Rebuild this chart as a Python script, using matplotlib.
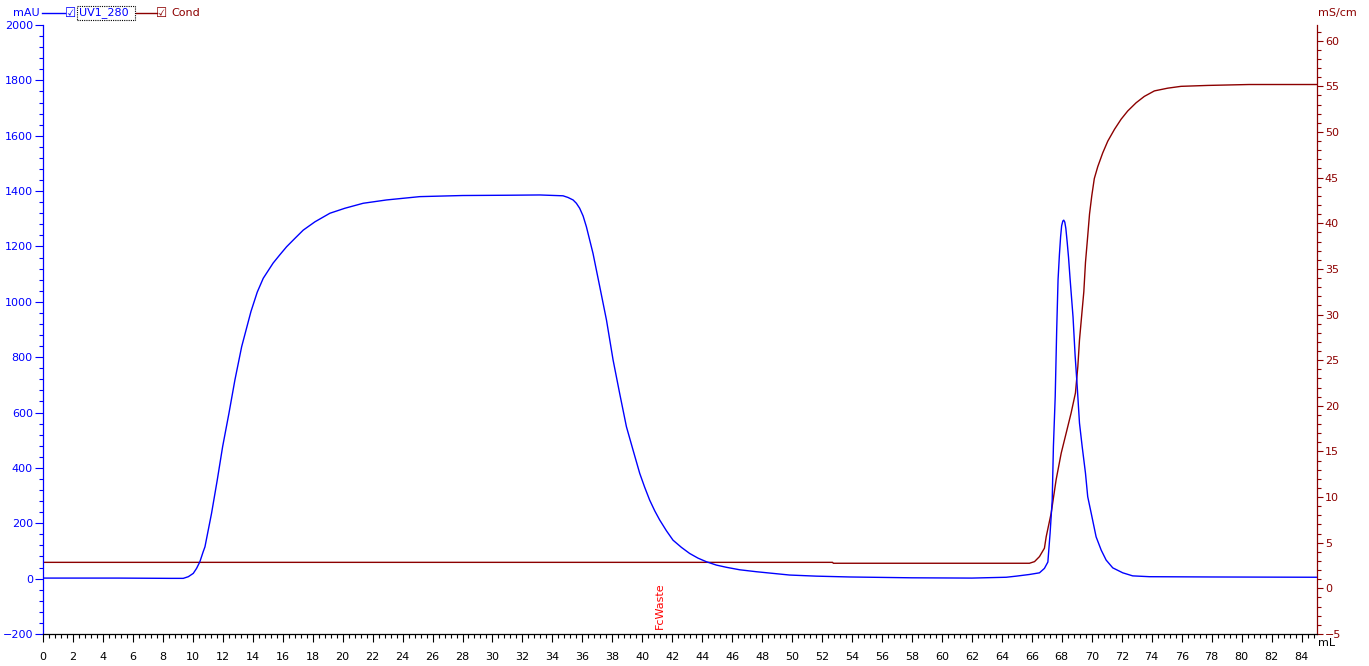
import matplotlib
matplotlib.use("Agg")
import matplotlib.pyplot as plt
from matplotlib.ticker import MultipleLocator
from matplotlib.lines import Line2D
from matplotlib.patches import Rectangle
import matplotlib.transforms as mtransforms

# ---------------- data ----------------
uv_ml = [0, 5, 8.5, 9.36, 9.70, 10.03, 10.25, 10.47, 10.69, 10.81, 11.25, 11.63,
         11.99, 12.41, 12.81, 13.26, 13.88, 14.30, 14.70, 15.36, 15.81, 16.26, 16.81,
         17.37, 18.15, 19.15, 20.15, 21.37, 22.93, 25.15, 28.0, 31.0,
         33.16, 34.71, 35.04, 35.38, 35.60, 35.82, 36.05, 36.27, 36.71, 37.16,
         37.61, 38.05, 38.49, 38.94, 39.38, 39.83, 40.16, 40.49, 40.83, 41.16,
         41.61, 42.05, 42.61, 43.16, 43.72, 44.28, 44.94, 45.61, 46.50, 47.61,
         48.72, 49.83, 51.61, 53.84, 58.0, 62.0, 64.29, 64.96, 65.84, 66.51,
         66.84, 67.07, 67.22, 67.36, 67.44, 67.56, 67.66, 67.75, 67.84, 67.92,
         67.99, 68.07, 68.13, 68.20, 68.27, 68.36, 68.45, 68.55, 68.65, 68.75,
         68.89, 69.03, 69.18, 69.36, 69.58, 69.73, 69.96, 70.29, 70.63, 70.96,
         71.40, 72.07, 72.73, 73.85, 78.0, 85.0]
uv_mau = [2, 2, 1, 1, 7, 19, 37, 61, 97, 115, 236, 356,
          477, 597, 718, 838, 965, 1035, 1085, 1140, 1170, 1199, 1229,
          1259, 1289, 1320, 1338, 1356, 1368, 1380, 1384, 1385,
          1386, 1383, 1377, 1368, 1356, 1338, 1310, 1271, 1175, 1055,
          934, 790, 669, 549, 465, 380, 330, 284, 245, 212,
          173, 139, 113, 91, 74, 61, 49, 41, 32, 25,
          19, 13, 9, 6, 3, 2, 5, 9, 15, 21,
          37, 60, 165, 284, 477, 657, 900, 1080, 1170, 1235,
          1275, 1292, 1295, 1288, 1265, 1215, 1160, 1085, 1015, 945,
          805, 693, 562, 477, 381, 296, 237, 151, 103, 67,
          39, 21, 10, 7, 6, 5]

cond_ml = [0, 52.7, 52.75, 65.84, 66.18, 66.51, 66.84, 66.96, 67.29, 67.62, 67.96,
           68.29, 68.62, 68.91, 69.07, 69.18, 69.36, 69.47, 69.58, 69.73, 69.85,
           70.0, 70.17, 70.40, 70.73, 71.07, 71.52, 71.96, 72.40, 72.96, 73.51,
           74.18, 75.07, 75.96, 77.74, 80.5, 85.0]
cond_ms = [2.85, 2.85, 2.75, 2.75, 2.93, 3.48, 4.4, 5.67, 8.23, 11.89, 14.81,
           17.0, 19.2, 21.4, 24.3, 27.2, 30.5, 32.5, 35.7, 38.6, 41.0,
           43.0, 44.9, 46.2, 47.7, 49.0, 50.3, 51.4, 52.3, 53.2, 53.9,
           54.5, 54.8, 55.0, 55.1, 55.2, 55.2]

fraction_ml = [41.16]
fraction_labels = ["FcWaste"]

# ---------------- style ----------------
BLUE = "#0000ff"
DRED = "#8c0000"
FRAC = "#ff0000"
W, H = 1369, 666
plt.rcParams['font.family'] = ['DejaVu Sans']
plt.rcParams['font.size'] = 8

fig = plt.figure(figsize=(W / 100, H / 100), dpi=100)
left, right, top, bottom = 43, 1316.5, 25, 634
ax = fig.add_axes([left / W, 1 - bottom / H, (right - left) / W, (bottom - top) / H])
ax2 = ax.twinx()

ax.plot(uv_ml, uv_mau, color=BLUE, lw=1.0, zorder=3)
ax2.plot(cond_ml, cond_ms, color=DRED, lw=1.0)
ax.set_zorder(ax2.get_zorder() + 1)
ax.patch.set_visible(False)

ax.set_xlim(0, 85)
ax.set_ylim(-200, 2000)
ax2.set_ylim(-5, 61.72)

# x axis
ax.xaxis.set_major_locator(MultipleLocator(2))
ax.xaxis.set_minor_locator(MultipleLocator(0.4))
ax.tick_params(axis='x', which='major', length=5.8, width=0.8, pad=7, colors='black', labelsize=8)
ax.tick_params(axis='x', which='minor', length=2.9, width=0.8, colors='black')

# left axis
ax.yaxis.set_major_locator(MultipleLocator(200))
ax.yaxis.set_minor_locator(MultipleLocator(40))
ax.tick_params(axis='y', which='major', length=5.8, width=0.8, pad=1.5, colors=BLUE, labelsize=8)
ax.tick_params(axis='y', which='minor', length=2.9, width=0.8, colors=BLUE)

# right axis
ax2.yaxis.set_major_locator(MultipleLocator(5))
ax2.yaxis.set_minor_locator(MultipleLocator(1))
ax2.tick_params(axis='y', which='major', length=4.5, width=0.8, pad=1.5, colors=DRED, labelsize=8)
ax2.tick_params(axis='y', which='minor', length=2.9, width=0.8, colors=DRED)

for s in ['top', 'right']:
    ax.spines[s].set_visible(False)
ax.spines['left'].set_color(BLUE)
ax.spines['bottom'].set_color('black')
for s in ['top', 'left', 'bottom']:
    ax2.spines[s].set_visible(False)
ax2.spines['right'].set_color(DRED)
for sp in list(ax.spines.values()) + list(ax2.spines.values()):
    sp.set_linewidth(0.9)

# fraction marks
trans = mtransforms.blended_transform_factory(ax.transData, ax.transAxes)
for xm, lab in zip(fraction_ml, fraction_labels):
    ax.text(xm, 5 / (bottom - top), lab, transform=trans, rotation=90,
            ha='center', va='bottom', color=FRAC, fontsize=8)

# axis unit labels
def fy(py):
    return 1 - py / H

def fx(px):
    return px / W

fig.text(fx(1318), fy(643), "mL", ha='left', va='center', color='black', fontsize=8)
fig.text(fx(1357), fy(13), "mS/cm", ha='right', va='center', color=DRED, fontsize=8)

# top legend strip
fig.text(fx(40), fy(13), "mAU", ha='right', va='center', color=BLUE, fontsize=8)
fig.add_artist(Line2D([fx(42), fx(65)], [fy(13), fy(13)], color=BLUE, lw=1.0))
fig.text(fx(70.5), fy(13), "\u2611", ha='center', va='center', color=BLUE, fontsize=9)
fig.text(fx(79), fy(13), "UV1_280", ha='left', va='center', color=BLUE, fontsize=8)
fig.add_artist(Rectangle((fx(77), fy(20)), fx(135) - fx(77), fy(6) - fy(20),
                         transform=fig.transFigure, fill=False, ec='black',
                         lw=0.8, ls=(0, (1, 1))))
fig.add_artist(Line2D([fx(136), fx(157)], [fy(13), fy(13)], color=DRED, lw=1.0))
fig.text(fx(162), fy(13), "\u2611", ha='center', va='center', color=DRED, fontsize=9)
fig.text(fx(171), fy(13), "Cond", ha='left', va='center', color=DRED, fontsize=8)

fig.savefig("out.png", dpi=100, facecolor='white')
